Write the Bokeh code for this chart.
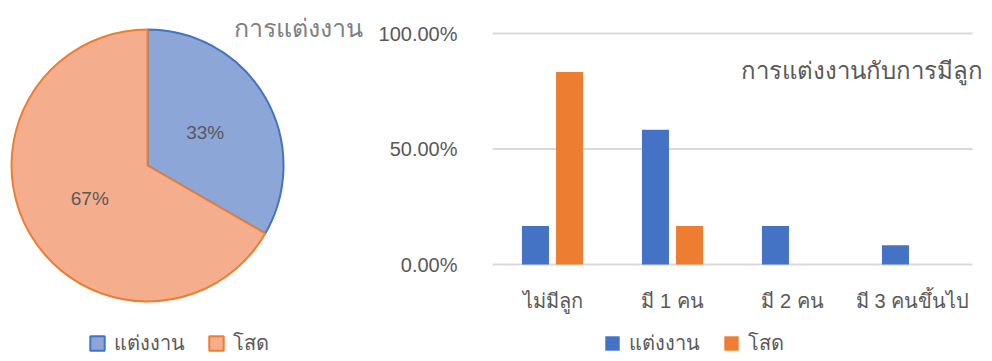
import math
from bokeh.plotting import figure
from bokeh.layouts import row
from bokeh.models import (Range1d, Label, Legend, LegendItem,
                          NumeralTickFormatter, FixedTicker, ColumnDataSource)
from bokeh.transform import dodge
from bokeh.core.properties import value
from bokeh.embed import file_html
from bokeh.resources import INLINE

# ---------------- data ----------------
pie_title = "การแต่งงาน"
pie_labels = ["แต่งงาน", "โสด"]
pie_values = [33.33, 66.67]

bar_title = "การแต่งงานกับการมีลูก"
categories = ["ไม่มีลูก", "มี 1 คน", "มี 2 คน", "มี 3 คนขึ้นไป"]
series_names = ["แต่งงาน", "โสด"]
married = [0.1667, 0.5833, 0.1667, 0.0833]
single = [0.8333, 0.1667, 0.0, 0.0]
y_ticks = [0.0, 0.5, 1.0]

FONT = "Liberation Sans"
GRAY = "#595959"
LIGHT_GRAY = "#808080"
BLUE = "#4472C4"
ORANGE = "#ED7D31"
BLUE_L = "#8BA6D7"
ORANGE_L = "#F4AE8E"
GRID = "#D9D9D9"

H = 361

# ---------------- pie ----------------
W1 = 375
p1 = figure(width=W1, height=H, output_backend="svg", toolbar_location=None,
            x_range=Range1d(0, W1), y_range=Range1d(0, H),
            x_axis_location=None, y_axis_location=None,
            min_border=0, outline_line_color=None)
p1.grid.visible = False

cx, cy, R = 147, 196, 136
total = sum(pie_values)
starts, ends, lx, ly, ltxt = [], [], [], [], []
ang = math.pi / 2
for v in pie_values:
    sweep = 2 * math.pi * v / total
    starts.append(ang - sweep)
    ends.append(ang)
    mid = ang - sweep / 2
    lx.append(cx + 0.49 * R * math.cos(mid))
    ly.append(cy + 0.49 * R * math.sin(mid))
    ltxt.append(f"{round(100 * v / total)}%")
    ang -= sweep

src = ColumnDataSource(dict(s=starts, e=ends, fill=[BLUE_L, ORANGE_L],
                            line=[BLUE, ORANGE]))
wr = p1.wedge(x=cx, y=cy, radius=R, start_angle="s", end_angle="e", source=src,
              fill_color="fill", line_color="line", line_width=2)
p1.text(x=lx, y=ly, text=ltxt, text_align="center", text_baseline="middle",
        text_font=value(FONT), text_font_size="19px", text_color=GRAY)

p1.add_layout(Label(x=233, y=334, x_units="screen", y_units="screen",
                    text=pie_title, text_font=FONT, text_font_size="25px",
                    text_color=LIGHT_GRAY, text_baseline="middle"))

leg1 = Legend(items=[LegendItem(label=pie_labels[0], renderers=[wr], index=0),
                     LegendItem(label=pie_labels[1], renderers=[wr], index=1)],
              orientation="horizontal", location=(88, 2),
              padding=0, margin=0, spacing=22, label_standoff=8,
              glyph_width=18, glyph_height=18,
              border_line_color=None, background_fill_alpha=0,
              label_text_font=FONT, label_text_font_size="20px",
              label_text_color=GRAY)
p1.add_layout(leg1, "center")

# ---------------- bar ----------------
W2 = 992 - W1
ZERO_PX, FULL_PX = 264, 33          # screen rows of 0% and 100%
unit = ZERO_PX - FULL_PX
xs = list(range(len(categories)))

p2 = figure(width=W2, height=H, output_backend="svg", toolbar_location=None,
            x_range=Range1d(-0.5, len(categories) - 0.5 + 20 / 120),
            y_range=Range1d(-(H - ZERO_PX) / unit, ZERO_PX / unit),
            x_axis_location=None,
            min_border_left=117, min_border_right=0,
            min_border_top=0, min_border_bottom=0,
            outline_line_color=None)
p2.grid.visible = False

# horizontal gridlines across the category band
p2.segment(x0=[-0.5] * len(y_ticks), x1=[len(categories) - 0.5] * len(y_ticks),
           y0=y_ticks, y1=y_ticks, line_color=GRID, line_width=2)

bsrc = ColumnDataSource(dict(x=xs, cat=categories, a=married, b=single))
rb1 = p2.vbar(x=dodge("x", -0.142), top="a", width=0.225,
              source=bsrc, fill_color=BLUE, line_color=None)
rb2 = p2.vbar(x=dodge("x", 0.142), top="b", width=0.225,
              source=bsrc, fill_color=ORANGE, line_color=None)

# category labels under the baseline
p2.text(x="x", y=-36 / unit, text="cat", source=bsrc, text_align="center",
        text_baseline="middle", text_font=value(FONT), text_font_size="20px",
        text_color=GRAY)

p2.yaxis.ticker = FixedTicker(ticks=y_ticks)
p2.yaxis.formatter = NumeralTickFormatter(format="0.00%")
p2.yaxis.axis_line_color = None
p2.yaxis.major_tick_line_color = None
p2.yaxis.minor_tick_line_color = None
p2.yaxis.major_label_standoff = 29
p2.yaxis.major_label_text_font = FONT
p2.yaxis.major_label_text_font_size = "20px"
p2.yaxis.major_label_text_color = GRAY

p2.add_layout(Label(x=248, y=291, x_units="screen", y_units="screen",
                    text=bar_title, text_font=FONT, text_font_size="24px",
                    text_color=GRAY, text_baseline="middle"))

leg2 = Legend(items=[LegendItem(label=series_names[0], renderers=[rb1]),
                     LegendItem(label=series_names[1], renderers=[rb2])],
              orientation="horizontal", location=(111, 2),
              padding=0, margin=0, spacing=22, label_standoff=8,
              glyph_width=18, glyph_height=18,
              border_line_color=None, background_fill_alpha=0,
              label_text_font=FONT, label_text_font_size="20px",
              label_text_color=GRAY)
p2.add_layout(leg2, "center")

layout = row(p1, p2)
open("out.html", "w").write(file_html(layout, INLINE))
